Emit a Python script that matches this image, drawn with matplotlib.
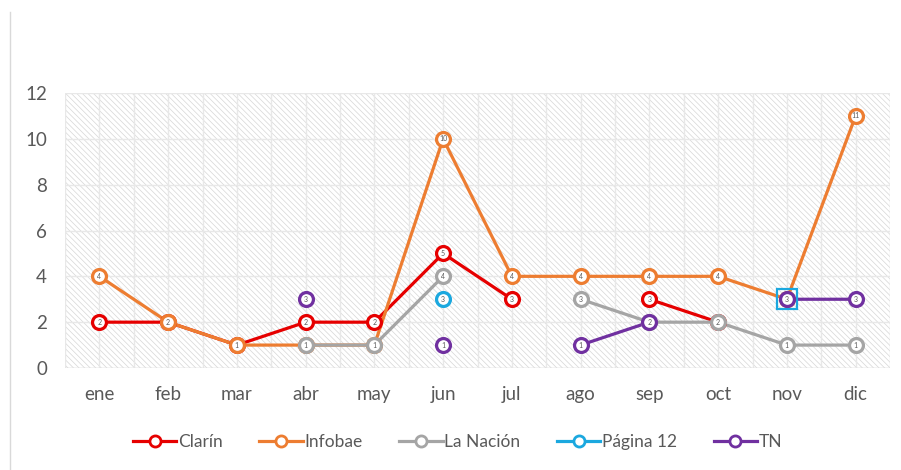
import matplotlib.pyplot as plt
import numpy as np
from matplotlib.lines import Line2D

nan = np.nan

# data
meses = ['ene', 'feb', 'mar', 'abr', 'may', 'jun', 'jul', 'ago', 'sep', 'oct', 'nov', 'dic']
clarin = [2, 2, 1, 2, 2, 5, 3, nan, 3, 2, nan, nan]
infobae = [4, 2, 1, 1, 1, 10, 4, 4, 4, 4, 3, 11]
la_nacion = [nan, nan, nan, 1, 1, 4, nan, 3, 2, 2, 1, 1]
pagina12 = [nan, nan, nan, nan, nan, 3, nan, nan, nan, nan, 3, nan]
tn = [nan, nan, nan, 3, nan, 1, nan, 1, 2, nan, 3, 3]

series = [('Clarín', clarin, '#E60000'),
          ('Infobae', infobae, '#ED7D31'),
          ('La Nación', la_nacion, '#A5A5A5'),
          ('Página 12', pagina12, '#1BA8DF'),
          ('TN', tn, '#7030A0')]
square_idx = {'Página 12': [10]}  # point drawn with a square marker

plt.rcParams['font.family'] = ['Lato', 'DejaVu Sans']
plt.rcParams['hatch.linewidth'] = 0.5

fig = plt.figure(figsize=(9.01, 4.70), dpi=100)
ax = fig.add_axes([65 / 901, 102 / 470, 825 / 901, 275 / 470])

# hatched plot area
ax.patch.set_facecolor('white')
ax.patch.set_hatch('\\\\\\\\\\\\')
ax.patch.set_edgecolor('#d6d6d6')

x = np.arange(len(meses))

for i, (name, vals, col) in enumerate(series):
    y = np.array(vals, dtype=float)
    ax.plot(x, y, color=col, lw=2.3, zorder=2 + i * 0.01, solid_capstyle='round')
    sq = square_idx.get(name, [])
    circ = [k for k in range(len(y)) if not np.isnan(y[k]) and k not in sq]
    ax.plot(x[circ], y[circ], ls='none', marker='o', ms=10, mfc='white',
            mec=col, mew=2.3, zorder=3 + i)
    if sq:
        ax.plot(x[sq], y[sq], ls='none', marker='s', ms=15, mfc='none',
                mec=col, mew=1.6, zorder=3 + i)
    for k in circ:
        ax.text(x[k], y[k], '%d' % y[k], ha='center', va='center',
                fontsize=5, color='#595959', zorder=3.5 + i)

# legend handles
handles = [Line2D([], [], color=col, lw=2.3, marker='o', ms=8, mfc='white',
                  mec=col, mew=2) for _, _, col in series]
ax.legend(handles, [s[0] for s in series], loc='center', ncol=5,
          bbox_to_anchor=(0.476, -0.27), frameon=False, fontsize=12.5,
          handlelength=2.5, handletextpad=0.1, columnspacing=2.1,
          labelcolor='#595959')

ax.set_xlim(-0.5, 11.5)
ax.set_ylim(0, 12)
ax.set_xticks(x)
ax.set_xticklabels(meses)
ax.set_yticks(range(0, 13, 2))
ax.set_xticks(np.arange(-0.5, 12, 1), minor=True)
ax.tick_params(axis='both', which='both', length=0, labelsize=13.5,
               labelcolor='#595959')
ax.tick_params(axis='x', pad=13)
ax.tick_params(axis='y', pad=13)
ax.grid(True, which='both', axis='x', color='#e8e8e8', lw=1)
ax.grid(True, which='major', axis='y', color='#e8e8e8', lw=1)
ax.set_axisbelow(True)
for sp in ax.spines.values():
    sp.set_visible(False)
ax.axhline(0, color='#d9d9d9', lw=1, zorder=1.5)

# thin frame line at the left edge of the picture
fig.add_artist(Line2D([10 / 901, 10 / 901], [0, 1 - 12 / 470], color='#d9d9d9', lw=1))

fig.savefig('out.png', dpi=100)
